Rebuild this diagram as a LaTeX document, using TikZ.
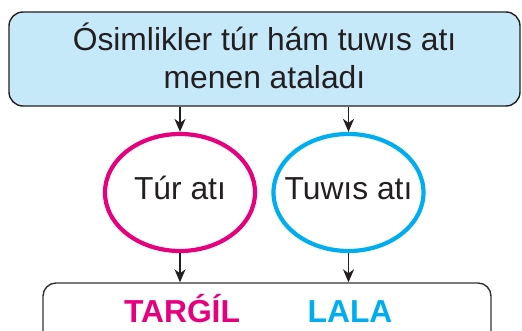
\documentclass[tikz,border=0pt]{standalone}
\usepackage{fontspec}
\setmainfont{Liberation Sans}
\usetikzlibrary{shapes.geometric,arrows.meta}
\definecolor{txt}{HTML}{231F20}
\definecolor{boxfill}{HTML}{C6E9FA}
\definecolor{pinkc}{HTML}{E6007E}
\definecolor{bluec}{HTML}{00AEEF}
\definecolor{edge}{HTML}{333333}
\tikzset{
  bigfont/.style={font=\fontsize{31.8}{38}\selectfont},
  topbox/.style={draw=txt, line width=1.4pt, fill=boxfill, rounded corners=14pt,
    minimum width=511pt, minimum height=94pt, inner sep=0pt, align=center,
    text=txt, bigfont, text depth=6pt},
  oval/.style={ellipse, line width=4.2pt, minimum width=150pt, minimum height=117pt,
    inner xsep=-30pt, inner ysep=-5pt, text=txt, bigfont, text height=20pt, text depth=5pt},
  botbox/.style={draw=edge, line width=1.4pt, rounded corners=13pt,
    minimum width=448pt, minimum height=70pt, inner sep=0pt},
  word/.style={font=\fontsize{31.8}{38}\selectfont\bfseries, anchor=base},
  conn/.style={draw=txt, line width=1.8pt, -{Stealth[length=13pt,width=11pt,inset=4pt]}}
}
\begin{document}
\begin{tikzpicture}[x=1pt,y=-1pt]
\useasboundingbox (0,0) rectangle (522,331);
\node[topbox] (top) at (264.5,59) {Ósimlikler túr hám tuwıs atı\\menen ataladı};
\node[oval, draw=pinkc] (tur) at (180,192.5) {Túr atı};
\node[oval, draw=bluec] (tuwis) at (348.5,192.5) {Tuwıs atı};
\node[botbox] (bottom) at (267,318) {};
\node[word, text=pinkc] (targil) at (182,322) {TARǴÍL};
\node[word, text=bluec] (lala) at (350,322) {LALA};
\draw[conn] (top.south -| tur.north) -- (tur.north);
\draw[conn] (top.south -| tuwis.north) -- (tuwis.north);
\draw[conn] (tur.south) -- (tur.south |- bottom.north);
\draw[conn] (tuwis.south) -- (tuwis.south |- bottom.north);
\end{tikzpicture}
\end{document}
